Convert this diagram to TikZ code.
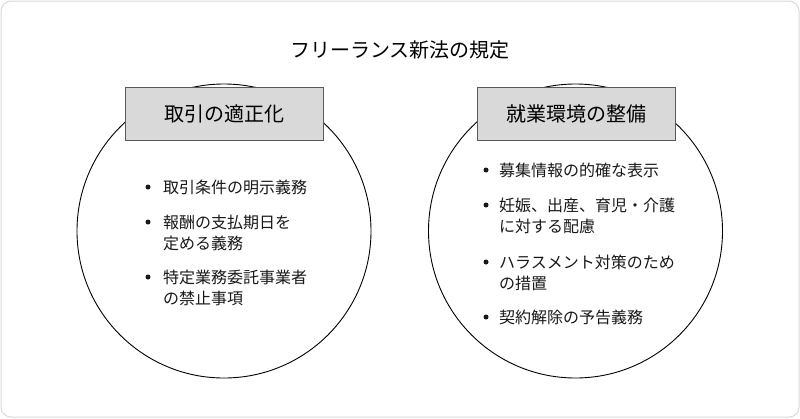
\documentclass[tikz,border=0pt]{standalone}
\usepackage{fontspec}
\setmainfont{Noto Sans CJK JP}
\begin{document}
\begin{tikzpicture}[x=1pt,y=-1pt,
  frame/.style={draw=black!15,line width=1pt,rounded corners=10pt,fill=white},
  ring/.style={draw=black,line width=0.9pt,fill=white},
  headbox/.style={draw=black!65,line width=0.9pt,fill=black!15,minimum width=198pt,minimum height=53pt,inner sep=0pt,font=\fontsize{20}{24}\selectfont},
  titletext/.style={font=\fontsize{20}{24}\selectfont,inner sep=0pt},
  itemline/.style={font=\fontsize{16}{21}\selectfont,anchor=base west,inner sep=0pt,text=black!90},
  dot/.style={circle,fill=black!90,inner sep=0pt,minimum size=5pt}
]
\useasboundingbox (0,0) rectangle (800,418);
\draw[frame] (1,1) rectangle (799,417);
\node[titletext] (title) at (400,50) {フリーランス新法の規定};

% left
\node[ring,circle,minimum size=294pt,inner sep=0pt] (cl) at (224,231) {};
\node[headbox] (hl) at (224,113.5) {取引の適正化};
\node[dot] (bl1) at (148,187) {};
\node[itemline] (tl1) at (163,193) {取引条件の明示義務};
\node[dot] (bl2) at (148,222) {};
\node[itemline] (tl2a) at (163,228) {報酬の支払期日を};
\node[itemline] (tl2b) at (163,249) {定める義務};
\node[dot] (bl3) at (148,277) {};
\node[itemline] (tl3a) at (163,283) {特定業務委託事業者};
\node[itemline] (tl3b) at (163,304) {の禁止事項};

% right
\node[ring,circle,minimum size=294pt,inner sep=0pt] (cr) at (575.5,231) {};
\node[headbox] (hr) at (576,113.5) {就業環境の整備};
\node[dot] (br1) at (486,170) {};
\node[itemline] (tr1) at (499,176) {募集情報の的確な表示};
\node[dot] (br2) at (486,205) {};
\node[itemline] (tr2a) at (499,211) {妊娠、出産、育児・介護};
\node[itemline] (tr2b) at (499,232) {に対する配慮};
\node[dot] (br3) at (486,262) {};
\node[itemline] (tr3a) at (499,268) {ハラスメント対策のため};
\node[itemline] (tr3b) at (499,289) {の措置};
\node[dot] (br4) at (486,317) {};
\node[itemline] (tr4) at (499,323) {契約解除の予告義務};
\end{tikzpicture}
\end{document}
